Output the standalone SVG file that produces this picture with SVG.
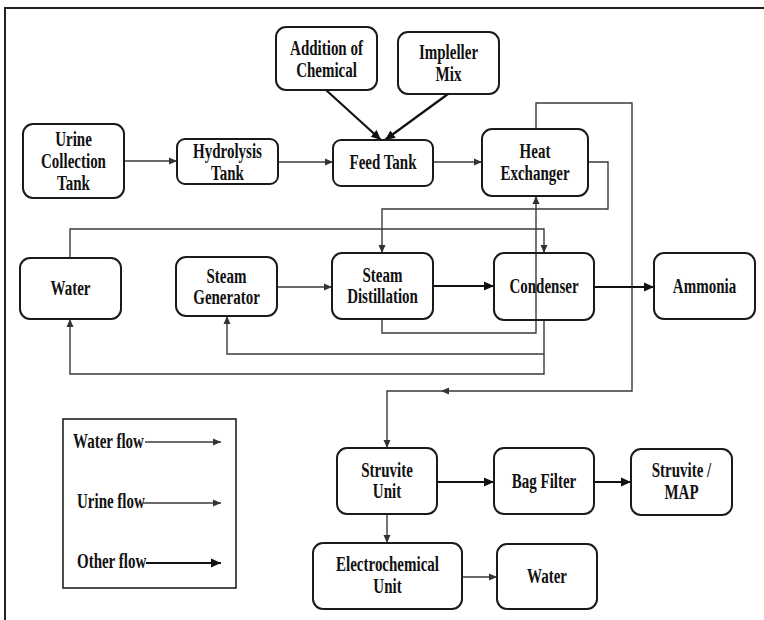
<svg xmlns="http://www.w3.org/2000/svg" width="764" height="620" viewBox="0 0 764 620">
<style>
.bg{fill:#fff}
.frame{fill:none;stroke:#222;stroke-width:2}
.node{fill:#fff;stroke:#1a1a1a;stroke-width:2}
.t{font-family:"Liberation Serif","Times New Roman",serif;font-weight:bold;font-size:20px;fill:#111;text-anchor:middle}
.tl{font-family:"Liberation Serif","Times New Roman",serif;font-weight:bold;font-size:20px;fill:#111;text-anchor:start}
.thin{fill:none;stroke:#3a3a3a;stroke-width:1.4}
.thick{fill:none;stroke:#111;stroke-width:2.2}
.legend{fill:#fff;stroke:#222;stroke-width:1.6}
</style>
<defs>
<marker id="a" markerUnits="userSpaceOnUse" markerWidth="10" markerHeight="8" refX="8" refY="4" orient="auto">
<path d="M0,0.5 L8,4 L0,7.5 z" fill="#333"/>
</marker>
<marker id="ab" markerUnits="userSpaceOnUse" markerWidth="12" markerHeight="10" refX="10" refY="5" orient="auto">
<path d="M0,0.5 L10,5 L0,9.5 z" fill="#111"/>
</marker>
</defs>
<rect class="bg" x="0" y="0" width="764" height="620"/>
<path class="frame" d="M5,620 V8 H764"/>

<g id="connectors">
<path class="thin" d="M124,161 H177" marker-end="url(#a)"/>
<path class="thin" d="M278,162 H333" marker-end="url(#a)"/>
<path class="thick" d="M326,90 L381,140" marker-end="url(#ab)"/>
<path class="thick" d="M448,94 L385,140" marker-end="url(#ab)"/>
<path class="thin" d="M433,162 H482" marker-end="url(#a)"/>
<path class="thin" d="M536,129 V103 H632 V391 H441" marker-end="url(#a)"/>
<path class="thin" d="M441,391 H387 V448" marker-end="url(#a)"/>
<path class="thin" d="M588,162 H608 V209 H382 V253" marker-end="url(#a)"/>
<path class="thin" d="M382,319 V333 H536 V196" marker-end="url(#a)"/>
<path class="thin" d="M70,258 V229 H544 V253" marker-end="url(#a)"/>
<path class="thin" d="M277,287 H332" marker-end="url(#a)"/>
<path class="thick" d="M433,286 H494" marker-end="url(#ab)"/>
<path class="thick" d="M594,287 H654" marker-end="url(#ab)"/>
<path class="thin" d="M544,320 V354 H227 V316" marker-end="url(#a)"/>
<path class="thin" d="M544,354 V374 H70 V319" marker-end="url(#a)"/>
<path class="thick" d="M437,482 H494" marker-end="url(#ab)"/>
<path class="thick" d="M594,482 H631" marker-end="url(#ab)"/>
<path class="thin" d="M387,514 V543" marker-end="url(#a)"/>
<path class="thin" d="M462,577 H497" marker-end="url(#a)"/>
</g>

<g id="addition">
<rect class="node" x="276" y="27" width="101" height="63" rx="10"/>
<text class="t" transform="translate(326.5 0) scale(0.75 1)"><tspan x="0" y="55">Addition of</tspan><tspan x="0" y="77">Chemical</tspan></text>
</g>
<g id="impeller">
<rect class="node" x="398" y="32" width="101" height="62" rx="10"/>
<text class="t" transform="translate(448.5 0) scale(0.75 1)"><tspan x="0" y="59">Impleller</tspan><tspan x="0" y="81">Mix</tspan></text>
</g>
<g id="urine-tank">
<rect class="node" x="23" y="124" width="101" height="74" rx="10"/>
<text class="t" transform="translate(73.5 0) scale(0.75 1)"><tspan x="0" y="146">Urine</tspan><tspan x="0" y="168">Collection</tspan><tspan x="0" y="190">Tank</tspan></text>
</g>
<g id="hydrolysis">
<rect class="node" x="177" y="139" width="101" height="45" rx="8"/>
<text class="t" transform="translate(227.5 0) scale(0.75 1)"><tspan x="0" y="158">Hydrolysis</tspan><tspan x="0" y="180">Tank</tspan></text>
</g>
<g id="feed-tank">
<rect class="node" x="333" y="140" width="100" height="46" rx="8"/>
<text class="t" transform="translate(383 0) scale(0.75 1)" y="169">Feed Tank</text>
</g>
<g id="heat-exchanger">
<rect class="node" x="482" y="129" width="106" height="67" rx="10"/>
<text class="t" transform="translate(535 0) scale(0.75 1)"><tspan x="0" y="158">Heat</tspan><tspan x="0" y="180">Exchanger</tspan></text>
</g>
<g id="water-top">
<rect class="node" x="20" y="258" width="101" height="61" rx="10"/>
<text class="t" transform="translate(70.5 0) scale(0.75 1)" y="295">Water</text>
</g>
<g id="steam-generator">
<rect class="node" x="176" y="257" width="101" height="59" rx="10"/>
<text class="t" transform="translate(226.5 0) scale(0.75 1)"><tspan x="0" y="283">Steam</tspan><tspan x="0" y="304">Generator</tspan></text>
</g>
<g id="steam-distillation">
<rect class="node" x="332" y="253" width="101" height="66" rx="10"/>
<text class="t" transform="translate(382.5 0) scale(0.75 1)"><tspan x="0" y="282">Steam</tspan><tspan x="0" y="303">Distillation</tspan></text>
</g>
<g id="condenser">
<rect class="node" x="494" y="253" width="100" height="67" rx="10" fill-opacity="0"/>
<text class="t" transform="translate(544 0) scale(0.75 1)" y="293">Condenser</text>
</g>
<g id="ammonia">
<rect class="node" x="654" y="253" width="101" height="66" rx="10"/>
<text class="t" transform="translate(704.5 0) scale(0.75 1)" y="293">Ammonia</text>
</g>
<g id="struvite-unit">
<rect class="node" x="337" y="448" width="100" height="66" rx="10"/>
<text class="t" transform="translate(387 0) scale(0.75 1)"><tspan x="0" y="477">Struvite</tspan><tspan x="0" y="498">Unit</tspan></text>
</g>
<g id="bag-filter">
<rect class="node" x="494" y="448" width="100" height="66" rx="10"/>
<text class="t" transform="translate(544 0) scale(0.75 1)" y="488">Bag Filter</text>
</g>
<g id="struvite-map">
<rect class="node" x="631" y="449" width="101" height="66" rx="10"/>
<text class="t" transform="translate(681.5 0) scale(0.75 1)"><tspan x="0" y="477">Struvite /</tspan><tspan x="0" y="499">MAP</tspan></text>
</g>
<g id="electrochemical">
<rect class="node" x="313" y="543" width="149" height="66" rx="10"/>
<text class="t" transform="translate(387.5 0) scale(0.75 1)"><tspan x="0" y="571">Electrochemical</tspan><tspan x="0" y="593">Unit</tspan></text>
</g>
<g id="water-bottom">
<rect class="node" x="497" y="544" width="100" height="65" rx="10"/>
<text class="t" transform="translate(547 0) scale(0.75 1)" y="583">Water</text>
</g>

<g id="legend">
<rect class="legend" x="63" y="419" width="173" height="169"/>
<text class="tl" transform="translate(73 0) scale(0.75 1)" x="0" y="448">Water flow</text>
<path class="thin" d="M145,442 H221" marker-end="url(#a)"/>
<text class="tl" transform="translate(77 0) scale(0.75 1)" x="0" y="508">Urine flow</text>
<path class="thin" d="M143,503 H221" marker-end="url(#a)"/>
<text class="tl" transform="translate(77 0) scale(0.75 1)" x="0" y="568">Other flow</text>
<path class="thick" d="M146,563 H221" marker-end="url(#ab)"/>
</g>
</svg>
